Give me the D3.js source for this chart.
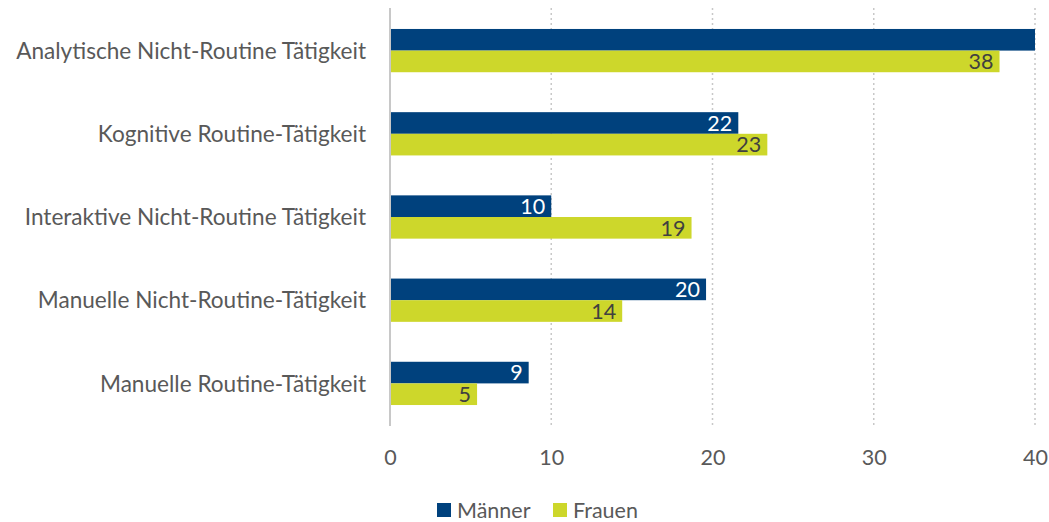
<!DOCTYPE html>
<html>
<head>
<meta charset="utf-8">
<script src="https://cdn.jsdelivr.net/npm/d3@7"></script>
<style>
  html, body { margin: 0; padding: 0; background: #fff; }
  svg text { font-family: "Source Sans Pro", Lato, "Noto Sans", sans-serif; }
</style>
</head>
<body>
<svg id="chart" width="1049" height="522"></svg>
<script>
// Task categories (top to bottom)
const categories = [
  "Analytische Nicht-Routine Tätigkeit",
  "Kognitive Routine-Tätigkeit",
  "Interaktive Nicht-Routine Tätigkeit",
  "Manuelle Nicht-Routine-Tätigkeit",
  "Manuelle Routine-Tätigkeit"
];
const seriesNames = ["Männer", "Frauen"];
const maenner = [40, 21.6, 10.0, 19.6, 8.6];
const frauen  = [37.8, 23.4, 18.7, 14.4, 5.4];
const xTicks = [0, 10, 20, 30, 40];

const colors = { "Männer": "#00417d", "Frauen": "#cdd72b" };
const labelColors = { "Männer": "#ffffff", "Frauen": "#404040" };

const svg = d3.select("#chart");
const margin = { left: 390, right: 14, top: 9, bottom: 97 };
const W = 1049, H = 522;

const x = d3.scaleLinear().domain([0, 40]).range([margin.left, W - margin.right]).clamp(true);
const y = d3.scaleBand().domain(categories).range([margin.top, H - margin.bottom]).paddingInner(0.48).paddingOuter(0.24);
const ySub = d3.scaleBand().domain(seriesNames).range([0, y.bandwidth()]);

// dotted vertical gridlines
svg.append("g")
  .selectAll("line")
  .data(xTicks.filter(t => t > 0))
  .join("line")
  .attr("x1", d => x(d)).attr("x2", d => x(d))
  .attr("y1", margin.top - 1).attr("y2", H - margin.bottom + 1)
  .attr("stroke", "#c8c8c8").attr("stroke-width", 1.5)
  .attr("stroke-dasharray", "2,3");

const rows = categories.map((c, i) => ({ cat: c, values: [
  { series: "Männer", value: maenner[i] },
  { series: "Frauen", value: frauen[i] }
]}));

const groups = svg.append("g").selectAll("g")
  .data(rows).join("g")
  .attr("transform", d => `translate(0,${y(d.cat)})`);

groups.selectAll("rect")
  .data(d => d.values).join("rect")
  .attr("x", x(0))
  .attr("y", d => ySub(d.series))
  .attr("width", d => x(d.value) - x(0))
  .attr("height", ySub.bandwidth())
  .attr("fill", d => colors[d.series]);

// value labels inside bar ends (hidden when the bar runs past the axis)
groups.selectAll("text")
  .data(d => d.values.filter(v => v.value < x.domain()[1])).join("text")
  .attr("x", d => x(d.value) - 6)
  .attr("y", d => ySub(d.series) + ySub.bandwidth() / 2)
  .attr("dy", "0.36em")
  .attr("text-anchor", "end")
  .attr("font-size", 21.5)
  .attr("fill", d => labelColors[d.series])
  .text(d => d3.format(".0f")(d.value));

// vertical axis line
svg.append("line")
  .attr("x1", x(0)).attr("x2", x(0))
  .attr("y1", margin.top - 1).attr("y2", H - margin.bottom + 1)
  .attr("stroke", "#c8c8c8").attr("stroke-width", 2);

// category labels
svg.append("g").selectAll("text")
  .data(categories).join("text")
  .attr("x", x(0) - 24)
  .attr("y", d => y(d) + y.bandwidth() / 2)
  .attr("dy", "0.36em")
  .attr("text-anchor", "end")
  .attr("font-size", 22.6)
  .attr("fill", "#595959")
  .text(d => d);

// x axis tick labels
const xAxis = d3.axisBottom(x).tickValues(xTicks).tickSize(0).tickPadding(0);
const gx = svg.append("g").attr("transform", `translate(0,${H - margin.bottom})`).call(xAxis);
gx.select(".domain").remove();
gx.selectAll("text")
  .attr("font-size", 21.5)
  .attr("fill", "#595959")
  .attr("dy", null)
  .attr("y", 40)
  .style("font-family", null);

// legend
const legend = svg.append("g").attr("transform", "translate(437,510)");
const li = legend.selectAll("g").data(seriesNames).join("g")
  .attr("transform", (d, i) => `translate(${i * 116},0)`);
li.append("rect").attr("x", 0).attr("y", -7).attr("width", 14).attr("height", 14)
  .attr("fill", d => colors[d]);
li.append("text").attr("x", 20).attr("y", 0).attr("dy", "0.36em")
  .attr("font-size", 21.5).attr("fill", "#595959").text(d => d);
</script>
</body>
</html>
